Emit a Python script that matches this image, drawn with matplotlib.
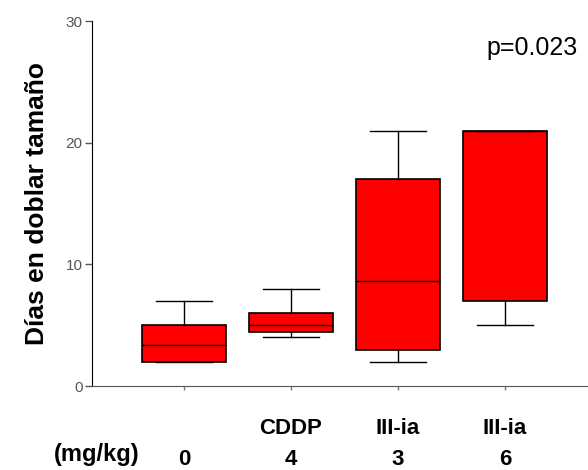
import matplotlib
matplotlib.use("Agg")
import matplotlib.pyplot as plt

plt.rcParams['font.family'] = ['Liberation Sans', 'DejaVu Sans']

groups = ["", "CDDP", "III-ia", "III-ia"]
doses = ["0", "4", "3", "6"]
whislo = [2.0, 4.0, 2.0, 5.0]
q1 = [2.0, 4.4, 3.0, 7.0]
med = [3.4, 5.0, 8.6, 21.0]
q3 = [5.0, 6.0, 17.0, 21.0]
whishi = [7.0, 8.0, 21.0, 21.0]
yticks = [0, 10, 20, 30]

stats = []
for i in range(len(doses)):
    stats.append(dict(whislo=whislo[i], q1=q1[i], med=med[i], q3=q3[i],
                      whishi=whishi[i], fliers=[]))

fig = plt.figure(figsize=(5.88, 4.70), dpi=100)
ax = fig.add_axes([0.157, 0.1787, 0.843, 0.7766])

positions = list(range(1, len(doses) + 1))
ax.bxp(stats, positions=positions, widths=0.78, patch_artist=True,
       showfliers=False, capwidths=0.53,
       boxprops=dict(facecolor='#ff0000', edgecolor='black', linewidth=1.2),
       medianprops=dict(color='black', linewidth=1.0),
       whiskerprops=dict(color='black', linewidth=1.0),
       capprops=dict(color='black', linewidth=1.0))

ax.set_xlim(0.143, 4.776)
ax.set_ylim(0, 30)
ax.set_yticks(yticks)
ax.set_yticklabels([str(t) for t in yticks], color='#555555', fontsize=11)
ax.tick_params(axis='y', direction='out', length=5, color='#555555', width=1, pad=2)
ax.set_xticks(positions)
ax.set_xticklabels([])
ax.tick_params(axis='x', direction='out', length=3, color='#777777', width=1)
ax.spines['top'].set_visible(False)
ax.spines['right'].set_visible(False)
ax.spines['left'].set_color('black')
ax.spines['bottom'].set_color('#555555')

ax.set_ylabel("Días en doblar tamaño", fontsize=19, fontweight='bold', labelpad=12)

for i, (g, d) in enumerate(zip(groups, doses)):
    x = positions[i]
    ax.text(x, -3.5, g, ha='center', va='center', fontsize=16, fontweight='bold',
            transform=ax.transData, clip_on=False)
    ax.text(x, -6.0, d, ha='center', va='center', fontsize=16, fontweight='bold',
            transform=ax.transData, clip_on=False)
fig.text(97 / 588, 1 - 455 / 470, "(mg/kg)", ha='center', va='center',
         fontsize=17, fontweight='bold')

ax.text(532 / 588, 1 - 48 / 470, "p=0.023", ha='center', va='center',
        fontsize=18, transform=fig.transFigure)

fig.savefig("out.png", dpi=100)
